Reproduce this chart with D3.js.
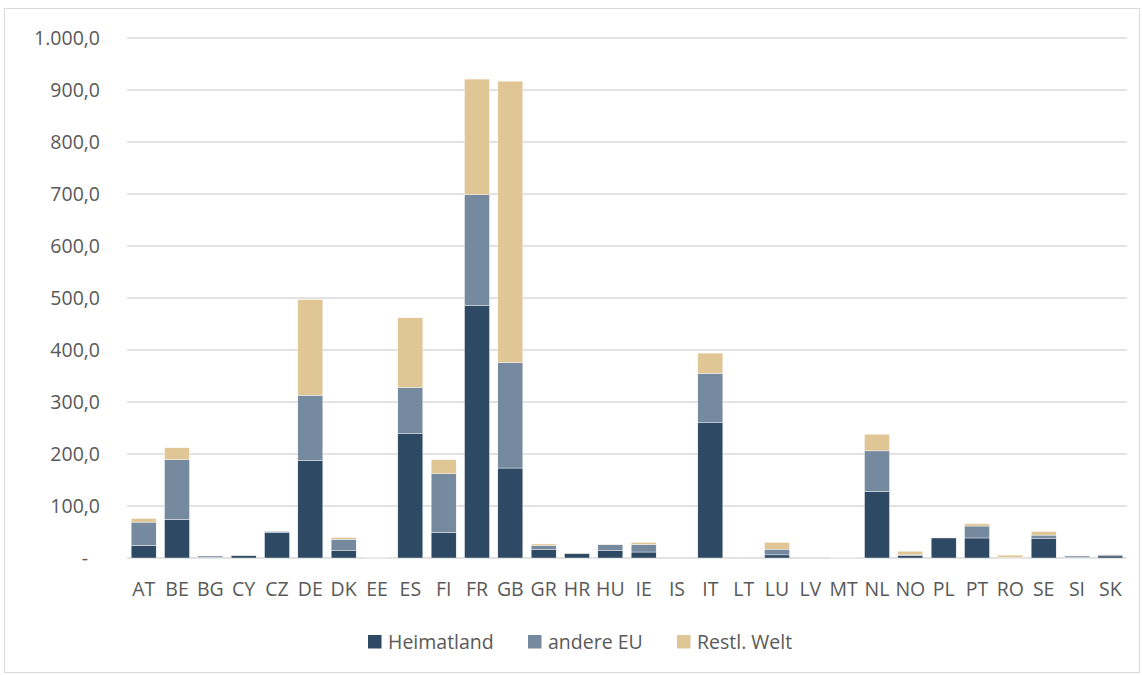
<!DOCTYPE html>
<html>
<head>
<meta charset="utf-8">
<script src="https://cdn.jsdelivr.net/npm/d3@7"></script>
<style>
  body { margin: 0; background: #fff; }
  text { font-family: "Open Sans", sans-serif; fill: #595959; }
</style>
</head>
<body>
<div id="vis"></div>
<script>
// Declare constants for frame
const FRAME_WIDTH = 1142;
const FRAME_HEIGHT = 675;
const MARGINS = {left: 127, right: 15, top: 38, bottom: 117};

const VIS_WIDTH = FRAME_WIDTH - MARGINS.left - MARGINS.right;
const VIS_HEIGHT = FRAME_HEIGHT - MARGINS.top - MARGINS.bottom;

// data
const countries = ["AT","BE","BG","CY","CZ","DE","DK","EE","ES","FI","FR","GB","GR","HR","HU",
                   "IE","IS","IT","LT","LU","LV","MT","NL","NO","PL","PT","RO","SE","SI","SK"];
const heimatland = [24, 74, 1, 4.5, 48.5, 188, 15, 0, 240, 49, 486, 173, 16, 8.5, 15,
                    11.5, 0, 260, 0, 6, 0, 0, 128, 5, 38.5, 38.5, 0.5, 37, 1, 4];
const andereEU   = [45, 115, 3, 1, 2.5, 125, 21, 0.5, 88, 113, 213, 203, 8, 1, 10.5,
                    14.5, 0, 95, 0, 11, 0, 0.5, 78, 1, 0, 23, 0.5, 7, 3, 2];
const restlWelt  = [7, 23, 0.5, 0.3, 0, 184, 3.5, 0, 134, 27, 222, 541, 3, 0.5, 0.5,
                    4, 0, 39, 0, 13, 0, 0.3, 32, 7, 0, 4.5, 4.5, 7, 0.3, 1];
const seriesNames = ["Heimatland", "andere EU", "Restl. Welt"];
const yTicks = [0, 100, 200, 300, 400, 500, 600, 700, 800, 900, 1000];

const COLORS = ["#2E4963", "#758A9E", "#E0C595"];

const rows = countries.map((c, i) => ({
  country: c,
  "Heimatland": heimatland[i],
  "andere EU": andereEU[i],
  "Restl. Welt": restlWelt[i]
}));
const stacked = d3.stack().keys(seriesNames)(rows);

const FRAME = d3.select("#vis")
  .append("svg")
    .attr("width", FRAME_WIDTH)
    .attr("height", FRAME_HEIGHT);

// outer chart border
FRAME.append("rect")
  .attr("x", 4.5).attr("y", 8.5)
  .attr("width", 1135).attr("height", 664)
  .attr("fill", "none")
  .attr("stroke", "#d9d9d9");

const X_SCALE = d3.scaleBand()
  .domain(countries)
  .range([0, VIS_WIDTH])
  .paddingInner(0.25)
  .paddingOuter(0.125);

const Y_SCALE = d3.scaleLinear()
  .domain([0, 1000])
  .range([VIS_HEIGHT, 0]);

const g = FRAME.append("g")
  .attr("transform", "translate(" + MARGINS.left + "," + MARGINS.top + ")");

// gridlines
g.append("g")
  .selectAll("line")
  .data(yTicks)
  .enter()
  .append("line")
    .attr("x1", 0).attr("x2", VIS_WIDTH)
    .attr("y1", d => Y_SCALE(d)).attr("y2", d => Y_SCALE(d))
    .attr("stroke", "#d9d9d9")
    .attr("stroke-width", 1.3);

// y tick labels, German number format
const fmt = d3.formatLocale({decimal: ",", thousands: ".", grouping: [3], currency: ["", "€"]}).format(",.1f");
g.append("g")
  .selectAll("text")
  .data(yTicks)
  .enter()
  .append("text")
    .attr("x", d => d === 0 ? -39 : -27)
    .attr("y", d => Y_SCALE(d))
    .attr("dy", "0.36em")
    .attr("text-anchor", "end")
    .attr("font-size", "19.5px")
    .text(d => d === 0 ? "-" : fmt(d));

// stacked bars
g.append("g")
  .selectAll("g")
  .data(stacked)
  .enter()
  .append("g")
    .attr("fill", (d, i) => COLORS[i])
  .selectAll("rect")
  .data(d => d)
  .enter()
  .append("rect")
    .attr("x", d => X_SCALE(d.data.country))
    .attr("y", d => Y_SCALE(d[1]))
    .attr("width", X_SCALE.bandwidth())
    .attr("height", d => Y_SCALE(d[0]) - Y_SCALE(d[1]))
    .attr("stroke", "#ffffff")
    .attr("stroke-width", 0.4);

// x axis labels
g.append("g")
  .selectAll("text")
  .data(countries)
  .enter()
  .append("text")
    .attr("x", d => X_SCALE(d) + X_SCALE.bandwidth() / 2)
    .attr("y", VIS_HEIGHT + 38)
    .attr("text-anchor", "middle")
    .attr("font-size", "19.5px")
    .text(d => d);

// legend
const legendX = [368, 528, 677];
const legend = FRAME.append("g")
  .selectAll("g")
  .data(seriesNames)
  .enter()
  .append("g")
    .attr("transform", (d, i) => "translate(" + legendX[i] + ",635)");
legend.append("rect")
  .attr("width", 13.5).attr("height", 13.5)
  .attr("fill", (d, i) => COLORS[i]);
legend.append("text")
  .attr("x", 20).attr("y", 13.5)
  .attr("font-size", "19.5px")
  .text(d => d);
</script>
</body>
</html>
